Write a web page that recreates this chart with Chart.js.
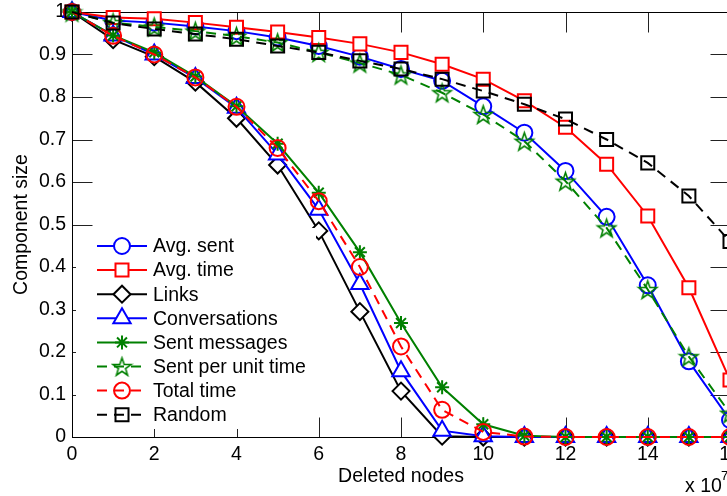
<!DOCTYPE html>
<html lang="en">
<head>
<meta charset="UTF-8">
<title>Component size vs deleted nodes</title>
<script src="https://cdn.jsdelivr.net/npm/chart.js"></script>
<style>
  html, body { margin: 0; padding: 0; overflow: hidden; background: #fff; }
  #chart { display: block; }
</style>
</head>
<body>
<canvas id="chart" width="760" height="496"></canvas>
<script>
// x values (units of 10^7 deleted nodes)
const deletedNodes = [0, 1, 2, 3, 4, 5, 6, 7, 8, 9, 10, 11, 12, 13, 14, 15, 16];
const xTicks = [0, 2, 4, 6, 8, 10, 12, 14, 16];
const yTicks = [0, 0.1, 0.2, 0.3, 0.4, 0.5, 0.6, 0.7, 0.8, 0.9, 1];

const avgSent      = [1, 0.98, 0.975, 0.966, 0.955, 0.94, 0.92, 0.895, 0.866, 0.838, 0.778, 0.716, 0.626, 0.518, 0.357, 0.178, 0.04];
const avgTime      = [1, 0.987, 0.984, 0.975, 0.964, 0.953, 0.94, 0.925, 0.905, 0.877, 0.842, 0.791, 0.729, 0.642, 0.52, 0.351, 0.134];
const links        = [1, 0.935, 0.895, 0.835, 0.75, 0.64, 0.485, 0.295, 0.108, 0.002, 0, 0, 0, 0, 0, 0, 0];
const conversations = [1, 0.945, 0.9, 0.845, 0.775, 0.665, 0.535, 0.36, 0.155, 0.015, 0.002, 0, 0, 0, 0, 0, 0];
const sentMessages = [1, 0.945, 0.905, 0.848, 0.778, 0.69, 0.575, 0.435, 0.268, 0.117, 0.03, 0.003, 0, 0, 0, 0, 0];
const sentPerUnit  = [1, 0.975, 0.965, 0.955, 0.943, 0.928, 0.905, 0.88, 0.852, 0.81, 0.759, 0.696, 0.602, 0.492, 0.347, 0.189, 0.056];
const totalTime    = [1, 0.944, 0.9, 0.846, 0.777, 0.68, 0.555, 0.4, 0.213, 0.064, 0.012, 0.001, 0, 0, 0, 0, 0];
const randomDel    = [1, 0.974, 0.96, 0.948, 0.936, 0.92, 0.905, 0.885, 0.866, 0.842, 0.814, 0.783, 0.748, 0.70, 0.645, 0.567, 0.46];

const FONT = '"Liberation Sans", Arial, Helvetica, sans-serif';
const GREEN = '#008000';

// matlab style pentagram marker, built as a small canvas
function makePentagram(color, r) {
    const c = document.createElement('canvas');
    const s = Math.ceil(r * 2 + 4);
    c.width = s; c.height = s;
    const g = c.getContext('2d');
    g.translate(s / 2, s / 2 + 1);
    g.beginPath();
    for (let k = 0; k < 10; k++) {
        const rr = k % 2 === 0 ? r : r * 0.4;
        const a = -Math.PI / 2 + k * Math.PI / 5;
        g.lineTo(rr * Math.cos(a), rr * Math.sin(a));
    }
    g.closePath();
    g.strokeStyle = color;
    g.lineWidth = 1.6;
    g.stroke();
    return c;
}
const pentagram = makePentagram(GREEN, 9.5);

function series(label, values, color, style, radius, dashed, filled) {
    return {
        label: label,
        data: values.map((v, i) => ({ x: deletedNodes[i], y: v })),
        borderColor: color,
        borderWidth: 2,
        borderDash: dashed ? [10, 7] : [],
        pointStyle: style,
        pointRadius: radius,
        pointHoverRadius: radius,
        pointBorderColor: color,
        pointBorderWidth: 2,
        pointBackgroundColor: filled ? '#fff' : 'rgba(0,0,0,0)',
        tension: 0,
        fill: false,
        clip: false
    };
}

const datasets = [
    series('Avg. sent', avgSent, '#0000ff', 'circle', 8, false, true),
    series('Avg. time', avgTime, '#ff0000', 'rect', 9.2, false, true),
    series('Links', links, '#000000', 'rectRot', 8.5, false, true),
    series('Conversations', conversations, '#0000ff', 'triangle', 10, false, true),
    series('Sent messages', sentMessages, GREEN, 'star', 7, false, true),
    series('Sent per unit time', sentPerUnit, GREEN, pentagram, 9.5, true, false),
    series('Total time', totalTime, '#ff0000', 'circle', 8, true, false),
    series('Random', randomDel, '#000000', 'rect', 9.2, true, false)
];
// later series on top, like the plot order
datasets.forEach((d, i) => { d.order = datasets.length - i; });

// box and inward ticks
const axesBox = {
    id: 'axesBox',
    beforeDatasetsDraw(chart) {
        const { ctx, chartArea: a, scales } = chart;
        const L = Math.round(a.left) + 0.5, R = Math.round(a.right) + 0.5;
        const T = Math.round(a.top) + 0.5, B = Math.round(a.bottom) + 0.5;
        ctx.save();
        ctx.lineWidth = 1;
        ctx.strokeStyle = '#222';
        ctx.beginPath();
        xTicks.forEach(v => {
            const px = Math.round(scales.x.getPixelForValue(v)) + 0.5;
            ctx.moveTo(px, B); ctx.lineTo(px, B - 20);
            ctx.moveTo(px, T); ctx.lineTo(px, T + 20);
        });
        yTicks.forEach(v => {
            const py = Math.round(scales.y.getPixelForValue(v)) + 0.5;
            ctx.moveTo(L, py); ctx.lineTo(L + 20, py);
            ctx.moveTo(R, py); ctx.lineTo(R - 20, py);
        });
        ctx.stroke();
        ctx.strokeStyle = '#000';
        ctx.strokeRect(L, T, R - L, B - T);
        ctx.restore();
    },
    afterDraw(chart) {
        const ctx = chart.ctx;
        ctx.save();
        ctx.fillStyle = '#000';
        ctx.textBaseline = 'alphabetic';
        ctx.font = '19.5px ' + FONT;
        ctx.fillText('x 10', 685, 492);
        ctx.font = '13px ' + FONT;
        ctx.fillText('7', 721, 480);
        ctx.restore();
    }
};

// legend inside the axes, lower left
const insideLegend = {
    id: 'insideLegend',
    afterDatasetsDraw(chart) {
        const ctx = chart.ctx;
        ctx.save();
        ctx.fillStyle = '#fff';
        ctx.fillRect(76, 228, 240, 201);
        chart.data.datasets.forEach((ds, i) => {
            const y = 246 + i * 24.1;
            ctx.strokeStyle = ds.borderColor;
            ctx.lineWidth = 2;
            ctx.setLineDash(ds.borderDash);
            ctx.beginPath();
            ctx.moveTo(97, y); ctx.lineTo(147, y);
            ctx.stroke();
            ctx.setLineDash([]);
            ctx.fillStyle = ds.pointBackgroundColor;
            ctx.strokeStyle = ds.pointBorderColor;
            ctx.lineWidth = ds.pointBorderWidth;
            Chart.helpers.drawPoint(ctx, { pointStyle: ds.pointStyle, radius: ds.pointRadius, borderWidth: 2, rotation: 0 }, 122, y);
            ctx.fillStyle = '#000';
            ctx.font = '19.5px ' + FONT;
            ctx.textBaseline = 'middle';
            ctx.fillText(ds.label, 153, y + 1);
        });
        ctx.restore();
    }
};

new Chart(document.getElementById('chart'), {
    type: 'line',
    data: { datasets: datasets },
    options: {
        responsive: false,
        animation: false,
        events: [],
        layout: { padding: { left: 0, top: 12, right: 30, bottom: 0 } },
        plugins: {
            legend: { display: false },
            tooltip: { enabled: false }
        },
        scales: {
            x: {
                type: 'linear',
                min: 0, max: 16,
                grid: { display: false, drawTicks: false },
                border: { display: false },
                ticks: { stepSize: 2, padding: 6, color: '#000', font: { family: FONT, size: 19.5 }, maxRotation: 0, autoSkip: false },
                title: { display: true, text: 'Deleted nodes', color: '#000', font: { family: FONT, size: 19.5 }, padding: { top: 0, bottom: 8 } },
                afterFit(s) { s.height = 59; s.paddingLeft = 0; s.paddingRight = 0; }
            },
            y: {
                min: 0, max: 1,
                grid: { display: false, drawTicks: false },
                border: { display: false },
                ticks: { stepSize: 0.1, padding: 6, color: '#000', font: { family: FONT, size: 19.5 }, callback: v => String(+v.toFixed(1)) },
                title: { display: true, text: 'Component size', color: '#000', font: { family: FONT, size: 19.5 }, padding: { top: 10, bottom: 0 } },
                afterFit(s) { s.width = 72; s.paddingTop = 0; s.paddingBottom = 0; }
            }
        }
    },
    plugins: [axesBox, insideLegend]
});
</script>
</body>
</html>
